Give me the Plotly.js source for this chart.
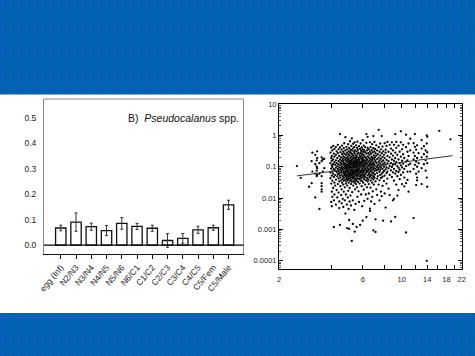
<!DOCTYPE html>
<html><head><meta charset="utf-8">
<script src="https://cdn.plot.ly/plotly-3.0.1.min.js"></script>
<style>
html,body{margin:0;padding:0;width:475px;height:356px;overflow:hidden;background-color:#0067ad;
background-image:radial-gradient(circle at 1px 1px,#0d57c0 0.8px,transparent 1px);background-size:4px 3px;}
#c{width:475px;height:356px}
</style></head><body><div id="c"></div>
<script>
const stages=['egg (Inf)','N2/N3','N3/N4','N4/N5','N5/N6','N6/C1','C1/C2','C2/C3','C3/C4','C4/C5','C5/Fem','C5/Male'];
const rates=[0.067,0.09,0.072,0.057,0.085,0.073,0.066,0.018,0.026,0.06,0.068,0.158];
const rateErrors=[0.011,0.036,0.014,0.02,0.023,0.012,0.012,0.027,0.019,0.014,0.01,0.018];
const lineX=[2.53,19.5];
const lineY=[0.051,0.225];
const sizeTicks=[2,4,6,8,10,12,14,16,18,20,22];
const sizeLabels=['2','','6','','10','','14','','18','','22'];
const logTicks=[10,1,0.1,0.01,0.001,0.0001];
const logLabels=['10','1','0.1','0.01','0.001','0.0001'];
// each column: x value followed by the y values read at that x
const scatterColumns=[
[2.53,.105],[2.66,.044],[2.97,.023],[3.07,.03,.15],[3.1,.28,.07],[3.22,.0105,.24,.12,.06],[3.3,.31,.19,.09,.055],[3.28,.16,.1,.075,.05],
[3.4,.0045,.13,.06],[3.5,.2,.15,.05,.03,.024,.019,.016],[3.55,.17,.07],[3.62,.18,.09],
[3.93,.28,.13,.065,.043],[3.97,.41,.19,.087,.029,.0075],[4.0,.22,.155,.11,.052,.016,.0055],[4.03,.33,.098,.071,.036,.011],
[4.07,.46,.17,.12,.06,.021],[4.11,.26,.083,.047,.0012,.0085],[4.14,.37,.21,.14,.031,.013],[4.18,.115,.076,.054,.025],
[4.22,.43,.24,.16,.093,.039,.0062],[4.26,.31,.13,.068,.018],[4.3,.19,.105,.049,.0105],[4.33,.5,.27,.085,.058,.028],
[4.37,.36,.15,.12,.072,.042,.015],[4.41,.22,.096,.062,.034,.0048,.0078],[4.45,1.1,.41,.17,.079,.052,.0014],[4.48,.29,.135,.11,.045,.024],
[4.52,.2,.09,.067,.037,.0125],[4.55,.35,.155,.125,.056,.019,.0068],[4.58,.47,.25,.1,.076,.031],[4.62,.18,.145,.083,.049,.041,.0095],
[4.65,.3,.215,.117,.064,.027,.0052],[4.68,.39,.16,.094,.071,.036,.016],[4.71,.56,.26,.132,.054,.045],[4.74,.2,.108,.087,.06,.022,.0085],
[4.78,.87,.33,.172,.123,.068,.039,.0032],[4.81,.24,.098,.079,.05,.029,.013],[4.84,.43,.15,.113,.058,.034],[4.87,.28,.19,.09,.073,.043,.0062],
[4.9,.36,.137,.104,.052,.025,.0011],[4.93,.21,.165,.083,.063,.038,.0105],[4.96,.52,.25,.12,.07,.047,.017],[4.99,.31,.178,.095,.056,.031,.0045],
[5.02,.4,.145,.11,.077,.042,.00105,.002],[5.05,.23,.125,.088,.061,.021,.0078],[5.08,.65,.29,.16,.1,.051,.036],[5.11,.35,.195,.135,.067,.045,.012],
[5.14,.27,.115,.082,.058,.028,.0058],[5.17,.46,.21,.15,.093,.074,.039],[5.2,.8,.33,.17,.127,.055,.033,.00043],[5.23,.25,.105,.086,.064,.048,.0155],
[5.27,.38,.185,.14,.072,.043,.0085,.0015],[5.3,.54,.225,.118,.09,.059,.025],[5.33,.3,.16,.1,.078,.05,.036],[5.37,.42,.2,.13,.068,.031,.0042],
[5.4,.6,.265,.15,.112,.06,.045,.00085],[5.43,.33,.175,.092,.075,.04,.019],[5.47,.23,.125,.105,.054,.034,.0065],[5.5,.48,.19,.14,.082,.066,.028],
[5.54,.31,.155,.097,.049,.038,.0012],[5.57,.4,.215,.12,.071,.056,.022],[5.6,.63,.26,.165,.108,.079,.043,.011],[5.64,.35,.14,.088,.062,.033],
[5.68,.28,.19,.125,.073,.052,.0165],[5.72,.45,.17,.1,.084,.041,.0075],[5.76,.24,.15,.115,.06,.029],[5.8,.37,.205,.13,.069,.047,.0014],
[5.84,.55,.27,.095,.077,.055,.036],[5.88,.32,.18,.142,.109,.042,.013],[5.92,.41,.225,.12,.065,.05,.024],[5.96,.26,.16,.087,.072,.035,.0055],
[6.0,.7,.36,.2,.135,.098,.058,.0019],[6.04,.3,.175,.113,.08,.045,.031],[6.08,.47,.24,.15,.067,.052,.0185],[6.12,.34,.125,.095,.04,.0082],
[6.16,.21,.16,.105,.074,.056],[6.2,.42,.29,.137,.086,.048,.027],[6.25,.19,.12,.062,.037,.013],[6.3,1.1,.58,.26,.155,.1,.078,.0025],
[6.35,.33,.17,.127,.069,.043,.022],[6.4,.9,.4,.215,.09,.053,.034,.0095],[6.45,.27,.143,.11,.075,.039],[6.5,.36,.195,.082,.058,.028,.014],
[6.55,.24,.16,.118,.065,.046],[6.6,.6,.3,.13,.1,.05,.0046,.0039],[6.65,.42,.18,.088,.072,.036,.0215],[6.7,.26,.148,.115,.056,.0078],
[6.75,.34,.21,.097,.079,.043],[6.8,.52,.165,.125,.066,.031,.011],[6.85,.29,.19,.105,.051,.0165],[6.9,.95,.39,.14,.084,.061,.039,.00093],
[6.95,.23,.12,.09,.048,.027],[7.0,.62,.31,.17,.073,.044,.0065],[7.05,.37,.2,.108,.057],[7.1,.27,.15,.087,.034,.0021,.00083],
[7.17,.48,.225,.132,.076,.019],[7.25,.33,.175,.098,.063,.042,.0125],[7.32,.25,.117,.08,.05],[7.4,1.5,.42,.195,.14,.09,.027],
[7.48,.3,.16,.105,.069,.037,.0085],[7.55,.55,.23,.125,.078,.055],[7.62,.36,.18,.093,.044,.016],[7.7,.95,.27,.145,.11,.06,.0115],
[7.78,.44,.205,.085,.048,.0245],[7.85,.31,.158,.12,.067,.0019],[7.93,.24,.1,.073,.035],[8.0,.56,.19,.135,.052,.014],
[8.1,.35,.28,.115,.082,.005],[8.2,.46,.165,.095,.062,.029],[8.3,.62,.22,.128,.07,.042],[8.42,.3,.15,.088,.02],
[8.55,.5,.2,.105,.055,.0125],[8.7,.38,.26,.13,.076,.0018],[8.8,.6,.17,.098,.047],[8.92,.33,.225,.115,.066,.0085],
[9.05,.5,.155,.085,.036,.0095],[9.2,1.1,.28,.19,.12,.06,.0025],[9.32,.62,.4,.14,.073,.027],[9.45,.24,.105,.05,.012],
[9.6,.47,.17,.092,.068,.018],[9.75,.3,.13,.08,.04],[9.9,1.35,.6,.21,.11,.055],[10.05,.36,.155,.095,.028],
[10.2,.5,.25,.125,.066],[10.35,.19,.085,.045,.0235],[10.6,1.05,.42,.145,.105,.03,.0008],[10.8,.3,.16,.07,.038],
[10.95,.55,.22,.115,.016],[11.2,.78,.33,.125,.07],[11.7,.56,.28,.17,.085,.0023],[11.9,1.1,.43,.22,.115],
[12.1,.35,.145,.06,.026],[12.25,.48,.19,.1,.045,.037],[12.5,.27,.13,.07],[13,.7,.38,.2,.09,.028],
[13.4,.45,.25,.12],[13.7,.33,.16,.075],[13.9,1,.55,.21,.045,.0001],[14,.9,.29,.13,.023],
[16.4,1.4],[19,.75]
];
const pointsX=[],pointsY=[];
scatterColumns.forEach(col=>col.slice(1).forEach(v=>{pointsX.push(col[0]);pointsY.push(v);}));

const data=[
{type:'bar',x:stages,y:rates,width:0.68,marker:{color:'#fff',line:{color:'#111',width:1.3}},
 error_y:{type:'data',array:rateErrors,visible:true,color:'#333',thickness:1,width:1.5},xaxis:'x',yaxis:'y'},
{type:'scatter',mode:'markers',x:pointsX,y:pointsY,marker:{color:'#000',size:2.3},xaxis:'x2',yaxis:'y2'},
{type:'scatter',mode:'lines',x:lineX,y:lineY,line:{color:'#333',width:1},xaxis:'x2',yaxis:'y2'}
];
const W=475,H=356;
const layout={
width:W,height:H,margin:{l:0,r:0,t:0,b:0},paper_bgcolor:'rgba(0,0,0,0)',plot_bgcolor:'rgba(0,0,0,0)',showlegend:false,
font:{family:'"Liberation Sans",Arial,sans-serif',color:'#111',size:9},
xaxis:{domain:[44/W,243.5/W],range:[-1.1,11.98],type:'category',categoryorder:'array',categoryarray:stages,tickangle:-50,
 ticks:'outside',ticklen:4,tickcolor:'#111',tickwidth:1,showline:true,linecolor:'#111',linewidth:1.2,showgrid:false,zeroline:false,anchor:'y',
 tickfont:{size:8.5,color:'#222'}},
yaxis:{domain:[1-254/H,1-99/H],range:[-0.035,0.573],tickvals:[0,0.1,0.2,0.3,0.4,0.5],ticktext:['0.0','0.1','0.2','0.3','0.4','0.5'],
 ticks:'',showline:true,linecolor:'#888',linewidth:1,showgrid:false,zeroline:false,anchor:'x',ticklabelstandoff:5,tickfont:{size:8.5,color:'#222'}},
xaxis2:{domain:[279/W,461.7/W],type:'log',range:[Math.log10(2),Math.log10(22)],tickvals:sizeTicks,ticktext:sizeLabels,ticks:'inside',ticklen:4,tickwidth:1,tickcolor:'#000',
 showline:true,mirror:'allticks',linecolor:'#000',linewidth:1,showgrid:false,zeroline:false,anchor:'y2',tickangle:0,ticklabelstandoff:3,tickfont:{size:7.5,color:'#222'}},
yaxis2:{domain:[1-269.3/H,1-104/H],type:'log',range:[-4.27,1],tickvals:logTicks,ticktext:logLabels,ticks:'inside',ticklen:4,tickwidth:1,tickcolor:'#000',
 minor:{ticks:'inside',ticklen:2,tickcolor:'#333',tickwidth:0.8,dtick:'D1',showgrid:false},
 showline:true,mirror:'allticks',linecolor:'#000',linewidth:1,showgrid:false,zeroline:false,anchor:'x2',tickfont:{size:7.5,color:'#222'}},
shapes:[
 {type:'rect',layer:'below',xref:'paper',yref:'paper',x0:0,x1:1,y0:1-313/H,y1:1-94.5/H,fillcolor:'#fff',line:{width:0}},
 {type:'line',xref:'paper',yref:'paper',x0:44/W,x1:243.5/W,y0:1-99/H,y1:1-99/H,line:{color:'#888',width:1}},
 {type:'line',xref:'paper',yref:'paper',x0:243.5/W,x1:243.5/W,y0:1-254/H,y1:1-99/H,line:{color:'#888',width:1}},
 {type:'line',xref:'x domain',yref:'y',x0:0,x1:1,y0:0,y1:0,line:{color:'#000',width:1.4}}
],
annotations:[{xref:'paper',yref:'paper',x:126/W,y:1-118/H,xanchor:'left',yanchor:'middle',showarrow:false,
 text:'B)  <i>Pseudocalanus</i> spp.',font:{size:10.5,color:'#111'}}]
};
Plotly.newPlot('c',data,layout,{staticPlot:true,displayModeBar:false});
</script></body></html>
